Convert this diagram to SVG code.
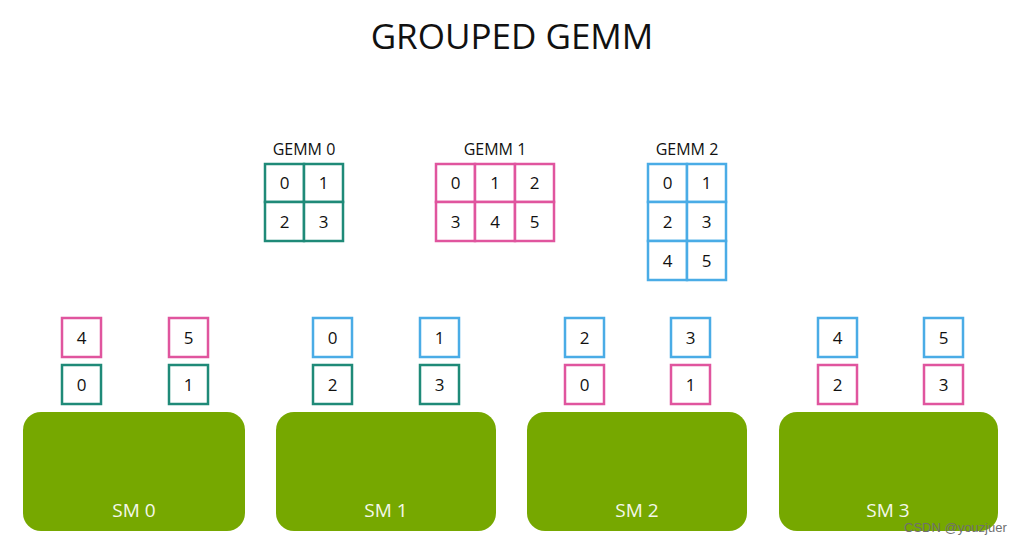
<svg xmlns="http://www.w3.org/2000/svg" width="1024" height="545" viewBox="0 0 1024 545">
<style>
text{font-family:"Open Sans","DejaVu Sans",sans-serif;}
.title{font-size:35px;fill:#111;text-anchor:middle;font-weight:500;}
.lbl{font-size:16px;fill:#111;text-anchor:middle;font-weight:500;}
.num{font-size:17px;fill:#111;text-anchor:middle;font-weight:500;}
.t{fill:#fff;stroke:#1f8a78;stroke-width:2.5;}
.p{fill:#fff;stroke:#e0559e;stroke-width:2.5;}
.b{fill:#fff;stroke:#4aace6;stroke-width:2.5;}
.sm{fill:#76a800;}
.smt{font-size:19px;fill:#f4f8ea;text-anchor:middle;font-weight:500;}
.wm{font-size:13px;fill:#6f6f6f;font-family:"Liberation Sans",Arial,sans-serif;}
</style>
<rect width="1024" height="545" fill="#fff"/>
<text class="title" x="512" y="49">GROUPED GEMM</text>

<g id="gemm0">
<text class="lbl" x="304" y="155">GEMM 0</text>
<rect class="t" x="265" y="164" width="39" height="38"/><rect class="t" x="304" y="164" width="39" height="38"/>
<rect class="t" x="265" y="202" width="39" height="39"/><rect class="t" x="304" y="202" width="39" height="39"/>
<text class="num" x="284.5" y="189">0</text><text class="num" x="323.5" y="189">1</text>
<text class="num" x="284.5" y="228">2</text><text class="num" x="323.5" y="228">3</text>
</g>

<g id="gemm1">
<text class="lbl" x="495" y="155">GEMM 1</text>
<rect class="p" x="436" y="164" width="39" height="38"/><rect class="p" x="475" y="164" width="40" height="38"/><rect class="p" x="515" y="164" width="39" height="38"/>
<rect class="p" x="436" y="202" width="39" height="39"/><rect class="p" x="475" y="202" width="40" height="39"/><rect class="p" x="515" y="202" width="39" height="39"/>
<text class="num" x="455.5" y="189">0</text><text class="num" x="495" y="189">1</text><text class="num" x="534.5" y="189">2</text>
<text class="num" x="455.5" y="228">3</text><text class="num" x="495" y="228">4</text><text class="num" x="534.5" y="228">5</text>
</g>

<g id="gemm2">
<text class="lbl" x="687" y="155">GEMM 2</text>
<rect class="b" x="648" y="164" width="39" height="38"/><rect class="b" x="687" y="164" width="39" height="38"/>
<rect class="b" x="648" y="202" width="39" height="39"/><rect class="b" x="687" y="202" width="39" height="39"/>
<rect class="b" x="648" y="241" width="39" height="39"/><rect class="b" x="687" y="241" width="39" height="39"/>
<text class="num" x="667.5" y="189">0</text><text class="num" x="706.5" y="189">1</text>
<text class="num" x="667.5" y="228">2</text><text class="num" x="706.5" y="228">3</text>
<text class="num" x="667.5" y="267">4</text><text class="num" x="706.5" y="267">5</text>
</g>

<g id="sm0">
<rect class="sm" x="23" y="412" width="222" height="119" rx="18"/>
<text class="smt" x="134" y="517">SM 0</text>
<rect class="p" x="62" y="318" width="39" height="39"/><text class="num" x="81.5" y="344">4</text>
<rect class="p" x="169" y="318" width="39" height="39"/><text class="num" x="188.5" y="344">5</text>
<rect class="t" x="62" y="365" width="39" height="39"/><text class="num" x="81.5" y="391">0</text>
<rect class="t" x="169" y="365" width="39" height="39"/><text class="num" x="188.5" y="391">1</text>
</g>

<g id="sm1">
<rect class="sm" x="276" y="412" width="220" height="119" rx="18"/>
<text class="smt" x="386" y="517">SM 1</text>
<rect class="b" x="313" y="318" width="39" height="39"/><text class="num" x="332.5" y="344">0</text>
<rect class="b" x="420" y="318" width="39" height="39"/><text class="num" x="439.5" y="344">1</text>
<rect class="t" x="313" y="365" width="39" height="39"/><text class="num" x="332.5" y="391">2</text>
<rect class="t" x="420" y="365" width="39" height="39"/><text class="num" x="439.5" y="391">3</text>
</g>

<g id="sm2">
<rect class="sm" x="527" y="412" width="220" height="119" rx="18"/>
<text class="smt" x="637" y="517">SM 2</text>
<rect class="b" x="565" y="318" width="39" height="39"/><text class="num" x="584.5" y="344">2</text>
<rect class="b" x="671" y="318" width="39" height="39"/><text class="num" x="690.5" y="344">3</text>
<rect class="p" x="565" y="365" width="39" height="39"/><text class="num" x="584.5" y="391">0</text>
<rect class="p" x="671" y="365" width="39" height="39"/><text class="num" x="690.5" y="391">1</text>
</g>

<g id="sm3">
<rect class="sm" x="779" y="412" width="219" height="119" rx="18"/>
<text class="smt" x="888" y="517">SM 3</text>
<rect class="b" x="818" y="318" width="39" height="39"/><text class="num" x="837.5" y="344">4</text>
<rect class="b" x="924" y="318" width="39" height="39"/><text class="num" x="943.5" y="344">5</text>
<rect class="p" x="818" y="365" width="39" height="39"/><text class="num" x="837.5" y="391">2</text>
<rect class="p" x="924" y="365" width="39" height="39"/><text class="num" x="943.5" y="391">3</text>
</g>

<g id="connectors"></g>

<text class="wm" x="904" y="532">CSDN @youzjuer</text>
</svg>
